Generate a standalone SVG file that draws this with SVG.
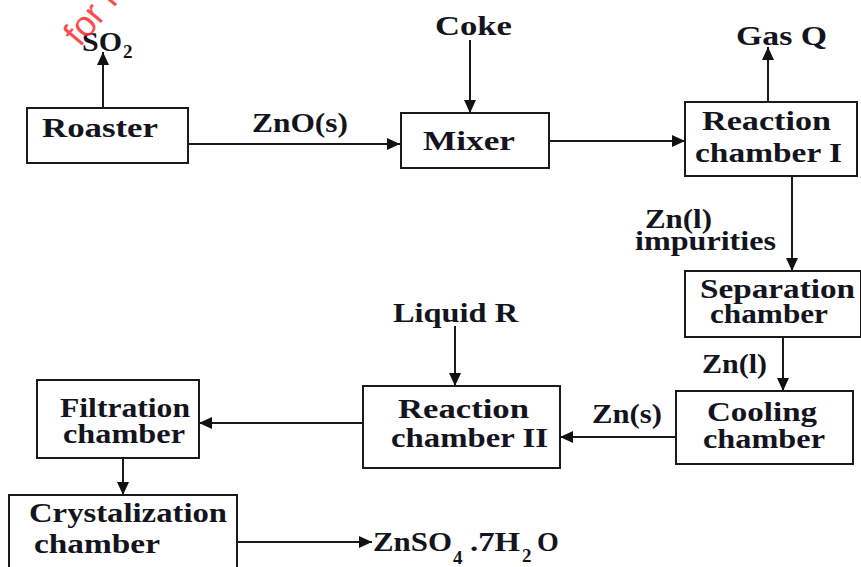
<svg xmlns="http://www.w3.org/2000/svg" width="861" height="567" viewBox="0 0 861 567">
<defs>
<style>
.box{fill:#fff;stroke:#1a1a1a;stroke-width:2}
.t{font-family:'Liberation Serif','Times New Roman',serif;font-weight:bold;font-size:28px;fill:#141420}
.sub{font-size:19px}
.c{fill:none;stroke:#1a1a1a;stroke-width:2;marker-end:url(#ah)}
.wm{font-family:'Liberation Sans',Arial,sans-serif;font-size:36px;fill:#ff2a2a;fill-opacity:0.85}
</style>
<marker id="ah" markerWidth="14" markerHeight="12" refX="13" refY="6" orient="auto" markerUnits="userSpaceOnUse"><path d="M0,0 L13,6 L0,12 z" fill="#111"/></marker>
</defs>
<rect width="861" height="567" fill="#fff"/>
<g id="connectors">
<path class="c" d="M103,108 V52"/>
<path class="c" d="M188,144 H400"/>
<path class="c" d="M470,40 V113"/>
<path class="c" d="M549,141 H685"/>
<path class="c" d="M768,102 V47"/>
<path class="c" d="M792,176 V271"/>
<path class="c" d="M783,337 V391"/>
<path class="c" d="M676,437 H560"/>
<path class="c" d="M455,326 V386"/>
<path class="c" d="M367,423 H199"/>
<path class="c" d="M123,458 V495"/>
<path class="c" d="M232,542 H372"/>
</g>
<g id="roaster">
<rect class="box" x="27" y="108" width="161" height="55"/>
<text class="t" x="42" y="137" textLength="116" lengthAdjust="spacingAndGlyphs">Roaster</text>
</g>
<g id="mixer">
<rect class="box" x="401" y="113" width="148" height="55"/>
<text class="t" x="423" y="150" textLength="92" lengthAdjust="spacingAndGlyphs">Mixer</text>
</g>
<g id="reaction1">
<rect class="box" x="685" y="102" width="172" height="74"/>
<text class="t" x="702" y="130" textLength="129" lengthAdjust="spacingAndGlyphs">Reaction</text>
<text class="t" x="695" y="162" textLength="147" lengthAdjust="spacingAndGlyphs">chamber I</text>
</g>
<g id="separation">
<rect class="box" x="685" y="271" width="176" height="66"/>
<text class="t" x="700" y="298" textLength="155" lengthAdjust="spacingAndGlyphs">Separation</text>
<text class="t" x="710" y="323" textLength="118" lengthAdjust="spacingAndGlyphs">chamber</text>
</g>
<g id="cooling">
<rect class="box" x="676" y="391" width="177" height="73"/>
<text class="t" x="707" y="421" textLength="110" lengthAdjust="spacingAndGlyphs">Cooling</text>
<text class="t" x="703" y="448" textLength="122" lengthAdjust="spacingAndGlyphs">chamber</text>
</g>
<g id="reaction2">
<rect class="box" x="363" y="386" width="197" height="82"/>
<text class="t" x="398" y="418" textLength="131" lengthAdjust="spacingAndGlyphs">Reaction</text>
<text class="t" x="391" y="447" textLength="157" lengthAdjust="spacingAndGlyphs">chamber II</text>
</g>
<g id="filtration">
<rect class="box" x="37" y="380" width="162" height="78"/>
<text class="t" x="60" y="417" textLength="130" lengthAdjust="spacingAndGlyphs">Filtration</text>
<text class="t" x="63" y="443" textLength="122" lengthAdjust="spacingAndGlyphs">chamber</text>
</g>
<g id="crystalization">
<rect class="box" x="9" y="495" width="228" height="80"/>
<text class="t" x="29" y="522" textLength="198" lengthAdjust="spacingAndGlyphs">Crystalization</text>
<text class="t" x="34" y="553" textLength="126" lengthAdjust="spacingAndGlyphs">chamber</text>
</g>
<g id="labels">
<text class="t" x="82" y="51"><tspan textLength="40" lengthAdjust="spacingAndGlyphs">SO</tspan><tspan class="sub" x="123" y="58">2</tspan></text>
<text class="t" x="252" y="132" textLength="96" lengthAdjust="spacingAndGlyphs">ZnO(s)</text>
<text class="t" x="435" y="35" textLength="77" lengthAdjust="spacingAndGlyphs">Coke</text>
<text class="t" x="736" y="45" textLength="91" lengthAdjust="spacingAndGlyphs">Gas Q</text>
<text class="t" x="645" y="228" textLength="67" lengthAdjust="spacingAndGlyphs">Zn(l)</text>
<text class="t" x="635" y="250" textLength="141" lengthAdjust="spacingAndGlyphs">impurities</text>
<text class="t" x="702" y="373" textLength="65" lengthAdjust="spacingAndGlyphs">Zn(l)</text>
<text class="t" x="592" y="423" textLength="70" lengthAdjust="spacingAndGlyphs">Zn(s)</text>
<text class="t" x="393" y="322" textLength="125" lengthAdjust="spacingAndGlyphs">Liquid R</text>
<text class="t" x="373" y="551"><tspan textLength="79" lengthAdjust="spacingAndGlyphs">ZnSO</tspan><tspan class="sub" x="453" y="564">4</tspan><tspan x="470" y="551" textLength="50" lengthAdjust="spacingAndGlyphs">.7H</tspan><tspan class="sub" x="522" y="562">2</tspan><tspan x="537" y="551">O</tspan></text>
</g>
<text class="wm" transform="translate(80,48) rotate(-50)">for r</text>
</svg>
